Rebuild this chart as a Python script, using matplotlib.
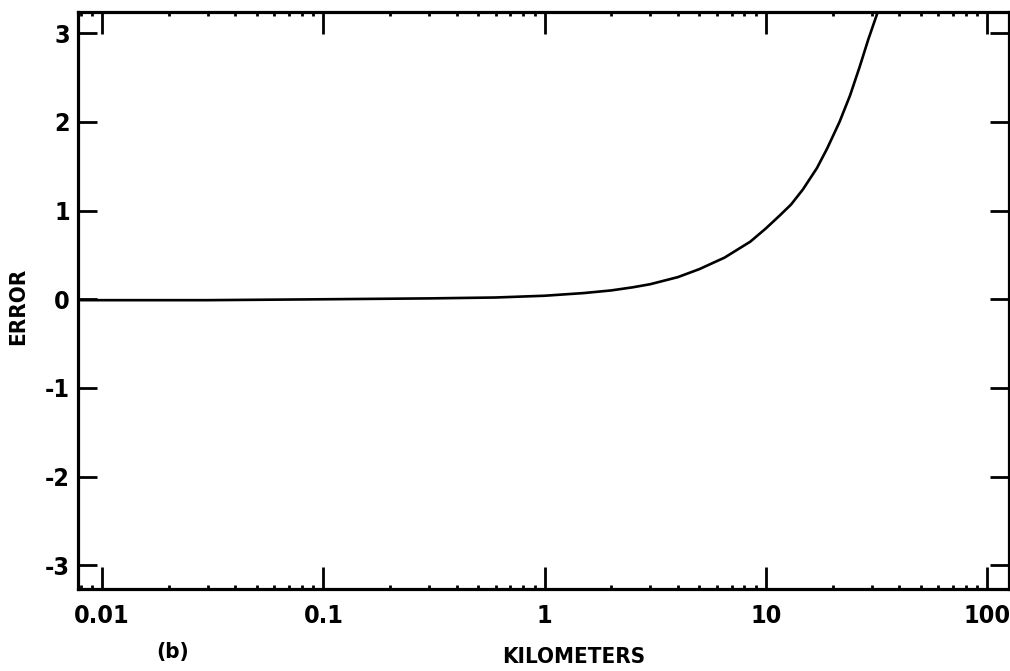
import matplotlib
matplotlib.use("Agg")
import matplotlib.pyplot as plt
from matplotlib.ticker import LogLocator, NullFormatter, FixedLocator

# curve
km = [0.008, 0.03, 0.1, 0.3, 0.6, 1.0, 1.5, 2.0, 2.5, 3.0, 4.0, 5.0,
      6.5, 8.5, 10.0, 11.6, 13.0, 14.7, 17.0, 18.9, 21.5, 24.0, 26.5, 29.0, 32.0]
err = [-0.01, -0.01, 0.0, 0.01, 0.02, 0.04, 0.07, 0.10, 0.135, 0.17, 0.25, 0.34,
       0.47, 0.65, 0.80, 0.95, 1.07, 1.24, 1.48, 1.70, 2.00, 2.30, 2.62, 2.93, 3.24]

x_ticks = [0.01, 0.1, 1, 10, 100]
x_labels = ["0.01", "0.1", "1", "10", "100"]
y_ticks = [-3, -2, -1, 0, 1, 2, 3]
y_labels = ["-3", "-2", "-1", "0", "1", "2", "3"]

plt.rcParams['font.family'] = ['DejaVu Sans']
plt.rcParams['font.stretch'] = 'condensed'
plt.rcParams['font.weight'] = 'bold'


def main():
    fig = plt.figure(figsize=(10.1, 6.71), dpi=100)
    ax = fig.add_axes([0.0772, 0.122, 0.922, 0.860])

    ax.plot(km, err, color="black", lw=1.9, solid_capstyle="round")

    ax.set_xscale("log")
    ax.set_xlim(0.00778, 125.7)
    ax.set_ylim(-3.27, 3.24)

    ax.xaxis.set_major_locator(FixedLocator(x_ticks))
    ax.set_xticklabels(x_labels)
    ax.xaxis.set_minor_locator(LogLocator(base=10, subs=range(2, 10)))
    ax.xaxis.set_minor_formatter(NullFormatter())
    ax.set_yticks(y_ticks)
    ax.set_yticklabels(y_labels)

    for s in ax.spines.values():
        s.set_linewidth(2.3)

    ax.tick_params(axis="x", which="major", direction="in", length=16, width=2,
                   top=True, labelsize=18, pad=11)
    ax.tick_params(axis="x", which="minor", direction="in", length=3, width=2,
                   top=True)
    ax.tick_params(axis="y", which="major", direction="in", length=14, width=2,
                   right=True, labelsize=18, pad=6)

    ax.set_xlabel("KILOMETERS", fontsize=16, fontweight="bold")
    ax.xaxis.set_label_coords(0.532, -0.100)
    ax.set_ylabel("ERROR", fontsize=16, fontweight="bold")
    ax.yaxis.set_label_coords(-0.053, 0.49)
    fig.text(0.171, 0.028, "(b)", fontsize=16, fontweight="bold",
             ha="center", va="center")

    fig.savefig("out.png", dpi=100)


if __name__ == '__main__':
    main()
